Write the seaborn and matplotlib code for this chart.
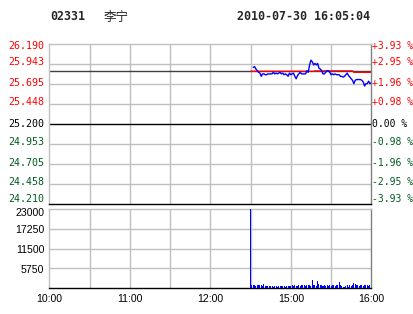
import matplotlib
matplotlib.use("Agg")
import matplotlib.pyplot as plt
import matplotlib.transforms as mtransforms
import seaborn as sns
import numpy as np
import pandas as pd

sns.set_style("white")
plt.rcParams['font.family'] = ['DejaVu Sans Mono', 'Noto Sans CJK SC']

# ---- data ----
code = "02331"
name = "李宁"
stamp = "2010-07-30 16:05:04"
prev_close = 25.200
price_ticks = [24.210, 24.458, 24.705, 24.953, 25.200, 25.448, 25.695, 25.943, 26.190]
pct_labels = ["-3.93 %", "-2.95 %", "-1.96 %", "-0.98 %", "0.00 %",
              "+0.98 %", "+1.96 %", "+2.95 %", "+3.93 %"]
vol_ticks = [5750, 11500, 17250, 23000]
time_labels = ["10:00", "11:00", "12:00", "15:00", "16:00"]
time_label_pos = [0, 60, 120, 180, 240]

price_minutes = list(range(152, 241))
price = [25.90, 25.91, 25.88, 25.86, 25.84, 25.83, 25.79, 25.82, 25.82, 25.81,
         25.81, 25.82, 25.82, 25.82, 25.82, 25.84, 25.82, 25.83, 25.82, 25.83,
         25.84, 25.82, 25.83, 25.81, 25.82, 25.81, 25.79, 25.83, 25.81, 25.82,
         25.83, 25.79, 25.76, 25.80, 25.82, 25.84, 25.82, 25.82, 25.82, 25.82,
         25.86, 25.84, 25.93, 25.99, 25.97, 25.93, 25.95, 25.93, 25.95, 25.89,
         25.88, 25.86, 25.82, 25.82, 25.84, 25.86, 25.86, 25.84, 25.81, 25.82,
         25.81, 25.82, 25.81, 25.81, 25.81, 25.79, 25.79, 25.78, 25.79, 25.81,
         25.83, 25.80, 25.78, 25.76, 25.74, 25.70, 25.74, 25.75, 25.75, 25.75,
         25.75, 25.74, 25.72, 25.67, 25.70, 25.70, 25.73, 25.70, 25.71]
avg_minutes = [150, 197, 198, 226, 227, 240]
avg_price = [25.852, 25.852, 25.857, 25.857, 25.840, 25.840]

vol_minutes = list(range(150, 241))
volume = [23500,
          900, 800, 850, 700, 900, 750, 800, 950, 700, 1300,
          700, 650, 700, 600, 700, 650, 300, 650, 600, 350,
          600, 650, 550, 600, 650, 300, 700, 600, 700, 650,
          750, 600, 800, 700, 650, 900, 700, 800, 950, 800,
          700, 1000, 800, 900, 700, 2400, 800, 900, 700, 2000,
          1300, 800, 1000, 700, 800, 600, 800, 700, 800, 700,
          900, 800, 700, 900, 800, 1700, 900, 700, 200, 250,
          700, 800, 300, 1000, 700, 800, 1400, 1100, 900, 800,
          700, 900, 800, 700, 850, 800, 900, 700, 1000, 900]

pdf = pd.DataFrame({"minute": price_minutes, "price": price})
adf = pd.DataFrame({"minute": avg_minutes, "avg": avg_price})
vdf = pd.DataFrame({"minute": vol_minutes, "volume": volume})

W, H = 414, 314
fig = plt.figure(figsize=(W / 100, H / 100), dpi=100)
fig.patch.set_facecolor("white")

L, R = 49.3, 371.3
ax = fig.add_axes([L / W, (H - 204) / H, (R - L) / W, 160 / H])
axv = fig.add_axes([L / W, (H - 288) / H, (R - L) / W, 79 / H])

grid_c = "#c0c0c0"
green = "#005a1e"

for a in (ax, axv):
    a.set_xlim(0, 240)
    for xv in range(30, 240, 30):
        a.axvline(xv, color=grid_c, lw=1, zorder=0)
    for s in a.spines.values():
        s.set_linewidth(1)
    a.spines['left'].set_color(grid_c)
    a.spines['top'].set_color(grid_c)
    a.spines['right'].set_color("#808080")
    a.spines['bottom'].set_color("black")
    a.set_xticks([])
    a.set_yticks([])

# price panel
ax.set_ylim(price_ticks[0], price_ticks[-1])
for yv in price_ticks[1:-1]:
    ax.axhline(yv, color="black" if yv == prev_close else grid_c, lw=1, zorder=0)
ax.axhline(25.852, color="#404040", lw=1, zorder=1)
sns.lineplot(data=adf, x="minute", y="avg", ax=ax, color="#ff0000", lw=1, zorder=2)
sns.lineplot(data=pdf, x="minute", y="price", ax=ax, color="#0000ff", lw=1, zorder=3)
ax.set_xlabel("")
ax.set_ylabel("")
ax.set_xticks([])
ax.set_yticks([])

def shifted(a, dy_px):
    return a.get_yaxis_transform() + mtransforms.ScaledTranslation(0, -dy_px / 100, fig.dpi_scale_trans)

n = len(price_ticks)
for i, (yv, pl) in enumerate(zip(price_ticks, pct_labels)):
    if yv > prev_close:
        c = "#ff0000"
    elif yv < prev_close:
        c = green
    else:
        c = "black"
    if i == n - 1:
        dy = 2.5
    elif i == 0:
        dy = -4.5
    elif yv == prev_close:
        dy = 0
    else:
        dy = -1.5
    tr = shifted(ax, dy)
    ax.text(-0.016, yv, f"{yv:.3f}", transform=tr,
            ha="right", va="center", fontsize=7.2, color=c,
            family="DejaVu Sans Mono")
    ax.text(1.003, yv, pl, transform=tr,
            ha="left", va="center", fontsize=7.0, color=c,
            family="DejaVu Sans Mono")

# volume panel
axv.set_ylim(0, 23000)
for yv in vol_ticks[:-1]:
    axv.axhline(yv, color=grid_c, lw=1, zorder=0)
sns.barplot(data=vdf, x="minute", y="volume", ax=axv, native_scale=True,
            color="#0000ff", width=0.75, linewidth=0, saturation=1, zorder=3)
axv.set_xlim(0, 240)
axv.set_xlabel("")
axv.set_ylabel("")
axv.set_yticks([])
axv.set_xticks([])
for yv in vol_ticks:
    dy = 4 if yv == vol_ticks[-1] else 1.5
    axv.text(-0.016, yv, f"{yv}", transform=shifted(axv, dy),
             ha="right", va="center", fontsize=7.6, color="black",
             family="Liberation Sans")
for xv, tl in zip(time_label_pos, time_labels):
    axv.text(xv, -0.14, tl, transform=axv.get_xaxis_transform(),
             ha="center", va="center", fontsize=7.6, color="black",
             family="Liberation Sans")

# header
fig.text(50 / W, 1 - 17 / H, code, ha="left", va="center", fontsize=8.4,
         weight="bold", family="DejaVu Sans Mono")
fig.text(104 / W, 1 - 17 / H, name, ha="left", va="center", fontsize=9,
         family="Noto Sans CJK SC")
fig.text(370 / W, 1 - 17 / H, stamp, ha="right", va="center", fontsize=8.4,
         weight="bold", family="DejaVu Sans Mono")

fig.savefig("out.png", dpi=100, facecolor="white")
